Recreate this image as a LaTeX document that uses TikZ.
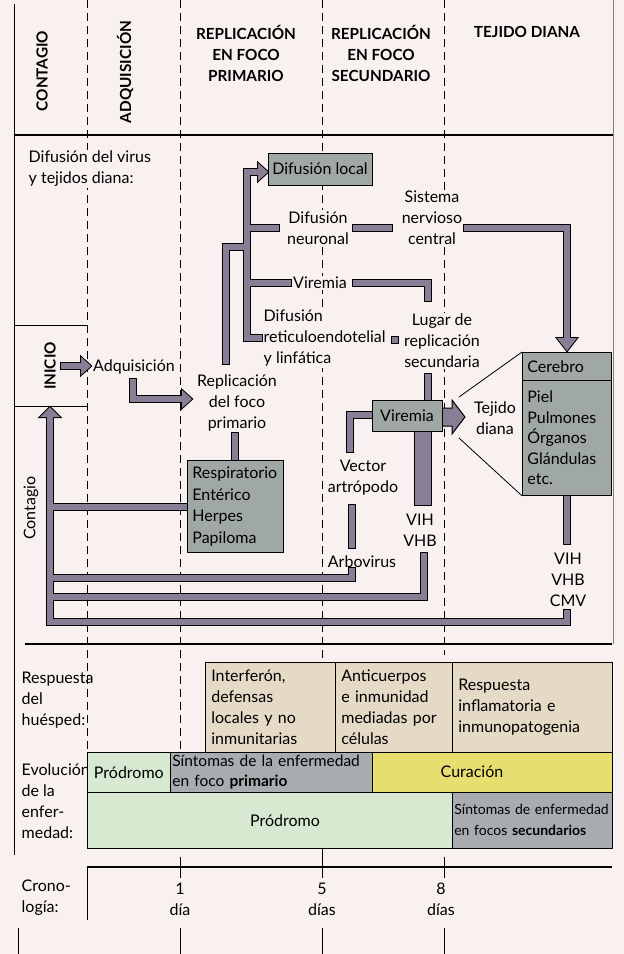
\documentclass[tikz,border=0pt]{standalone}
\usepackage{fontspec}
\setmainfont{Lato}
\definecolor{paper}{RGB}{248,241,240}
\definecolor{pipe}{RGB}{136,126,150}
\definecolor{boxgray}{RGB}{160,168,166}
\definecolor{beige}{RGB}{229,218,198}
\definecolor{sage}{RGB}{216,233,210}
\definecolor{straw}{RGB}{231,222,112}
\definecolor{slate}{RGB}{168,172,174}
% a thick outlined conduit: black edge first, coloured core on top
\newcommand\conduit[1]{%
  \draw[pipeedge] #1;
  \draw[pipebody] #1;}
% the same, ending in one or more triangular heads
\newcommand\conduitarrow[2]{%
  \draw[pipeedge] #1;
  \filldraw[black, line width=2pt, line join=miter] #2;
  \draw[pipebody] #1;
  \fill[pipe] #2;}
\begin{document}
\begin{tikzpicture}[x=1pt, y=-1pt,
  pipeedge/.style={draw=black, line width=8.6pt, line cap=rect, line join=miter},
  pipebody/.style={draw=pipe, line width=6.6pt, line cap=rect, line join=miter},
  guide/.style={line width=0.9pt, dash pattern=on 8pt off 5pt},
  lbl/.style={font=\fontsize{16}{21}\selectfont, inner sep=1.5pt, fill=paper, align=center},
  hdr/.style={font=\fontsize{15.3}{21}\selectfont\bfseries, inner sep=1pt, align=center},
  graybox/.style={draw=black, line width=0.8pt, fill=boxgray, inner sep=0pt,
    font=\fontsize{16}{21.5}\selectfont},
  band/.style={draw=black, line width=0.7pt, anchor=north west, inner sep=0pt,
    font=\fontsize{16}{21}\selectfont, align=left},
]
\fill[paper] (0,0) rectangle (624,954);
\useasboundingbox (0,0) rectangle (624,954);

% frame, header rule and column guides
\draw[line width=1pt] (14,4) -- (14,855);
\draw[gray, line width=1pt] (613,0) -- (613,644);
\draw[line width=2pt] (14,135) -- (613,135);
\draw[guide] (87,0) -- (87,752);
\draw[guide] (180,0) -- (180,752);
\draw[guide] (322,0) -- (322,662);
\draw[guide] (444,0) -- (444,655);
\draw[line width=0.8pt] (14,325) -- (87,325) (14,406) -- (87,406);
\draw[line width=1.8pt] (25,644) -- (612,644);

% column headings
\node[hdr, rotate=90] (hCont) at (42,71) {CONTAGIO};
\node[hdr, rotate=90] (hAdq) at (125,72) {ADQUISICIÓN};
\node[hdr] (hPrim) at (246,53) {REPLICACIÓN\\EN FOCO\\PRIMARIO};
\node[hdr] (hSec) at (381,53) {REPLICACIÓN\\EN FOCO\\SECUNDARIO};
\node[hdr] (hTej) at (527,32) {TEJIDO DIANA};

% labels of the spread scheme
\node[lbl, align=left, anchor=west] (spread) at (27,169) {Difusión del virus\\y tejidos diana:};
\node[hdr, rotate=90] (inicio) at (50,366) {INICIO};
\node[lbl] (adq) at (134,367) {Adquisición};
\node[lbl] (repPrim) at (237,403) {Replicación\\del foco\\primario};
\node[lbl, rotate=90] (contag) at (31,508) {Contagio};
\node[lbl] (neur) at (318,228) {Difusión\\neuronal};
\node[lbl] (snc) at (432,218) {Sistema\\nervioso\\central};
\node[lbl] (vir1) at (320,283) {Viremia};
\node[lbl, align=left, anchor=west] (ret) at (262,338) {Difusión\\reticuloendotelial\\y linfática};
\node[lbl] (lugar) at (442,341) {Lugar de\\replicación\\secundaria};
\node[lbl] (tejido) at (495,418) {Tejido\\diana};
\node[lbl] (vector) at (363,478) {Vector\\artrópodo};
\node[lbl] (arbo) at (362,562) {Arbovirus};
\node[lbl] (vih1) at (420,530) {VIH\\VHB};
\node[lbl] (vih2) at (568,580) {VIH\\VHB\\CMV};

% conduits of the primary focus
\conduitarrow{(226,361) -- (226,247) -- (247,247)
  (247,338) -- (247,172) -- (256,172)
  (247,228) -- (276,228)
  (247,283) -- (288,283)
  (247,338) -- (259,338)}
  {(258,163) -- (268,172) -- (258,181) -- cycle}
\conduit{(356,228) -- (389,228)}
\conduitarrow{(467,228) -- (567,228) -- (567,336)}
  {(557,338) -- (577,338) -- (567,351) -- cycle}
\conduit{(356,283) -- (428,283) -- (428,298)}
\filldraw[fill=pipe, draw=black, line width=1pt] (391,336) rectangle (398,343);
\conduit{(428,377) -- (428,404)}
\filldraw[fill=pipe, draw=black, line width=1pt] (414,428) rectangle (431,505);
\conduit{(374,415) -- (350,415) -- (350,449)}
\conduit{(352,508) -- (352,545)}
\conduit{(567,497) -- (567,541)}
\conduit{(235,436) -- (235,458)}

% entry and transmission conduits
\conduitarrow{(64,366) -- (80,366)}{(81,357) -- (91,366) -- (81,375) -- cycle}
\conduitarrow{(133,382) -- (133,399) -- (180,399)}{(182,390) -- (192,399) -- (182,408) -- cycle}
\conduitarrow{(50,622) -- (50,417)
  (50,507) -- (187,507)
  (50,578) -- (352,578) -- (352,571)
  (50,597) -- (424,597) -- (424,556)
  (50,622) -- (567,622) -- (567,613)}
  {(40,417) -- (50,407) -- (60,417) -- cycle}

% secondary viremia arrow towards the target tissue
\filldraw[fill=pipe, draw=black, line width=1pt, line join=miter]
  (436,408) -- (452,408) -- (452,400) -- (465,417) -- (452,434) -- (452,426) -- (436,426) -- cycle;

% grey boxes
\node[graybox, minimum width=104pt, minimum height=32pt] (local) at (320,169) {Difusión local};
\node[graybox, anchor=north west, minimum width=96pt, minimum height=92pt, text width=86pt, align=left]
  (resp) at (187,460) {Respiratorio\\Entérico\\Herpes\\Papiloma};
\node[graybox, minimum width=70pt, minimum height=31pt] (vir2) at (407,416) {Viremia};
\node[graybox, anchor=north west, minimum width=89pt, minimum height=28pt, text width=79pt, align=left]
  (cereb) at (522,352) {Cerebro};
\node[graybox, anchor=north west, minimum width=89pt, minimum height=115pt, text width=79pt, align=left,
  font=\fontsize{16}{20.5}\selectfont]
  (organs) at (522,380) {Piel\\Pulmones\\Órganos\\Glándulas\\etc.};
\draw[line width=0.8pt] (459,397) -- (cereb.north west) (459,438) -- (organs.south west);

% host response and disease course
\node[lbl, fill=none, align=left, anchor=west] (host) at (20,700) {Respuesta\\del\\huésped:};
\node[band, fill=beige, minimum width=130pt, minimum height=90pt, text width=118pt, inner xsep=6pt]
  (ifn) at (205,662) {Interferón,\\defensas\\locales y no\\inmunitarias};
\node[band, fill=beige, minimum width=117pt, minimum height=90pt, text width=105pt, inner xsep=6pt]
  (ab) at (335,662) {Anticuerpos\\e inmunidad\\mediadas por\\células};
\node[band, fill=beige, minimum width=160pt, minimum height=90pt, text width=148pt, inner xsep=6pt]
  (infl) at (452,662) {Respuesta\\inflamatoria e\\inmunopatogenia};

\node[lbl, fill=none, align=left, anchor=west] (evo) at (20,801) {Evolución\\de la\\enfer-\\medad:};
\node[band, fill=sage, minimum width=83pt, minimum height=40pt] (prod1) at (87,752) {};
\node[lbl, fill=none] at (prod1.center) {Pródromo};
\node[band, fill=slate, minimum width=202pt, minimum height=40pt, text width=198pt, inner xsep=2pt,
  font=\fontsize{15.5}{20}\selectfont]
  (symp1) at (170,752) {Síntomas de la enfermedad\\en foco \textbf{primario}};
\node[band, fill=straw, minimum width=240pt, minimum height=40pt] (cur) at (372,752) {};
\node[lbl, fill=none] (curt) at (472,772) {Curación};
\node[band, fill=sage, minimum width=365pt, minimum height=56pt] (prod2) at (87,792) {};
\node[lbl, fill=none] (prodt) at (285,821) {Pródromo};
\node[band, fill=slate, minimum width=160pt, minimum height=56pt, text width=156pt, inner xsep=2pt,
  font=\fontsize{14}{21}\selectfont] (symp2) at (452,792)
  {Síntomas de enfermedad\\en focos \textbf{secundarios}};

% time line
\draw[line width=1.8pt] (87,867) -- (612,867);
\draw[line width=1pt] (180,857) -- (180,878) (322,848) -- (322,878) (444,857) -- (444,878);
\draw[line width=0.8pt] (87,867) -- (87,920);
\draw[line width=1pt] (18,928) -- (18,954) (180,928) -- (180,954) (322,928) -- (322,954) (444,928) -- (444,954);
\node[lbl, fill=none, align=left, anchor=west] (crono) at (20,898) {Crono-\\logía:};
\node[lbl, fill=none] (d1) at (180,899) {1\\día};
\node[lbl, fill=none] (d5) at (322,899) {5\\días};
\node[lbl, fill=none] (d8) at (441,899) {8\\días};
\end{tikzpicture}
\end{document}
